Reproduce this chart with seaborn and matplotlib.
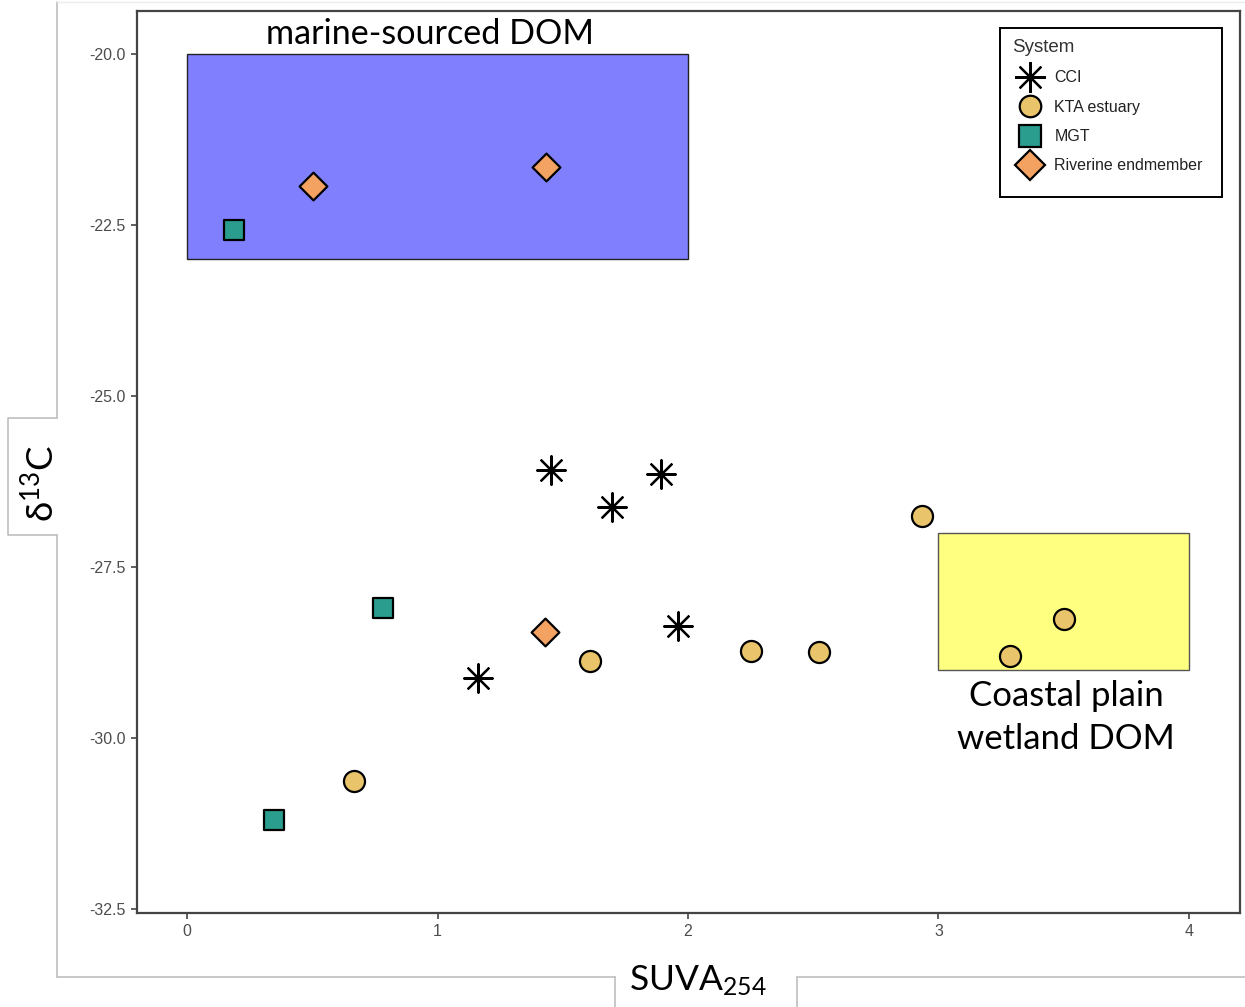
import matplotlib
matplotlib.use("Agg")
import matplotlib.pyplot as plt
import seaborn as sns
import pandas as pd
from matplotlib.lines import Line2D
from matplotlib.patches import Rectangle

# ---- data ----
cci_x = [1.453, 1.697, 1.892, 1.960, 1.162]
cci_y = [-26.08, -26.62, -26.14, -28.36, -29.12]
kta_x = [2.934, 3.501, 3.285, 2.523, 2.251, 1.609, 0.667]
kta_y = [-26.75, -28.26, -28.80, -28.74, -28.73, -28.87, -30.63]
mgt_x = [0.188, 0.782, 0.347]
mgt_y = [-22.57, -28.10, -31.20]
riv_x = [0.503, 1.433, 1.429]
riv_y = [-21.93, -21.65, -28.45]
systems = ["CCI", "KTA estuary", "MGT", "Riverine endmember"]
colors = {"CCI": "black", "KTA estuary": "#E9C46A", "MGT": "#2A9D8F",
          "Riverine endmember": "#F4A261"}

marine_box = [0.0, 2.0, -23.0, -20.0]    # x0, x1, y0, y1
wetland_box = [3.0, 4.0, -29.0, -27.0]

df = pd.DataFrame({
    "x": cci_x + kta_x + mgt_x + riv_x,
    "y": cci_y + kta_y + mgt_y + riv_y,
    "System": (["CCI"] * len(cci_x) + ["KTA estuary"] * len(kta_x)
               + ["MGT"] * len(mgt_x) + ["Riverine endmember"] * len(riv_x)),
})

sns.set_theme(style="white")
plt.rcParams["font.family"] = ["Liberation Sans", "DejaVu Sans"]
plt.rcParams["mathtext.fontset"] = "custom"
plt.rcParams["mathtext.rm"] = "Lato"
plt.rcParams["mathtext.it"] = "Lato"

W, H = 1245.0, 1007.0
def fx(p):
    return p / W
def fy(p):
    return 1 - p / H

fig = plt.figure(figsize=(12.45, 10.07), dpi=100)
ax = fig.add_axes([0.1100, 0.0934, 0.8860, 0.8957])

# highlight boxes
ax.add_patch(Rectangle((marine_box[0], marine_box[2]), marine_box[1] - marine_box[0],
                       marine_box[3] - marine_box[2], facecolor="#8080FF",
                       edgecolor="#222222", linewidth=1.0, zorder=1))
ax.add_patch(Rectangle((wetland_box[0], wetland_box[2]), wetland_box[1] - wetland_box[0],
                       wetland_box[3] - wetland_box[2], facecolor="#FFFF80",
                       edgecolor="#555555", linewidth=1.0, zorder=1))

marker_map = {"CCI": (8, 2, 0), "KTA estuary": "o", "MGT": "s",
              "Riverine endmember": "D"}
size_map = {"CCI": 420, "KTA estuary": 230, "MGT": 225, "Riverine endmember": 200}

for s in systems:
    sub = df[df["System"] == s]
    if s == "CCI":
        sns.scatterplot(data=sub, x="x", y="y", ax=ax, marker=marker_map[s],
                        s=size_map[s], color="black", linewidth=1.6,
                        legend=False, zorder=3)
    else:
        sns.scatterplot(data=sub, x="x", y="y", ax=ax, marker=marker_map[s],
                        s=size_map[s], color=colors[s], edgecolor="black",
                        linewidth=1.6, legend=False, zorder=3)

ax.set_xlim(-0.2, 4.204)
ax.set_ylim(-32.56, -19.37)
ax.set_xticks([0, 1, 2, 3, 4])
ax.set_xticklabels(["0", "1", "2", "3", "4"])
ax.set_yticks([-32.5, -30.0, -27.5, -25.0, -22.5, -20.0])
ax.set_yticklabels(["-32.5", "-30.0", "-27.5", "-25.0", "-22.5", "-20.0"])
ax.tick_params(axis="both", which="both", direction="out", length=4, width=1.2,
               color="#444444", labelcolor="#4D4D4D", labelsize=11.5, pad=4,
               bottom=True, left=True)
ax.set_xlabel("")
ax.set_ylabel("")
for sp in ax.spines.values():
    sp.set_color("#444444")
    sp.set_linewidth(1.6)

# annotations
ax.text(0.97, -19.71, "marine-sourced DOM", ha="center", va="center",
        fontsize=24.6, family=["Lato", "DejaVu Sans"], color="black")
ax.text(3.51, -29.70, "Coastal plain\nwetland DOM", ha="center", va="center",
        fontsize=25, family=["Lato", "DejaVu Sans"], color="black",
        linespacing=1.45)

# legend
handles = []
for s in systems:
    if s == "CCI":
        h = Line2D([], [], linestyle="none", marker=marker_map[s], markersize=22,
                   color="black", markeredgewidth=1.6)
    else:
        h = Line2D([], [], linestyle="none", marker=marker_map[s],
                   markersize={"KTA estuary": 15.5, "MGT": 15.5, "Riverine endmember": 15}[s],
                   markerfacecolor=colors[s], markeredgecolor="black",
                   markeredgewidth=1.6)
    handles.append(h)
leg = ax.legend(handles, systems, title="System", loc="upper left",
                bbox_to_anchor=(fx(1012), fy(39)), bbox_transform=fig.transFigure,
                borderaxespad=0, frameon=False,
                fontsize=11.5, title_fontsize=13.5, labelspacing=0.9,
                handletextpad=0.4, borderpad=0, handlelength=2.25)
leg._legend_box.align = "left"
for t in leg.get_texts():
    t.set_color("#222222")
leg.get_title().set_color("#333333")
# legend frame
fig.add_artist(Rectangle((fx(1000), fy(197)), fx(1222) - fx(1000), fy(28) - fy(197),
                         transform=fig.transFigure, fill=False, edgecolor="black",
                         linewidth=1.4, zorder=5))

# outer frame (figure pixels)
frame_col = "#BFBFBF"
fig.add_artist(Line2D([fx(57), fx(57)], [fy(2), fy(418)], color=frame_col, lw=1.2))
fig.add_artist(Line2D([fx(57), fx(57)], [fy(535), fy(977)], color=frame_col, lw=1.2))
fig.add_artist(Line2D([fx(57), fx(1245)], [fy(2), fy(2)], color="#EBEBEB", lw=1.0))
fig.add_artist(Line2D([fx(57), fx(615)], [fy(977), fy(977)], color=frame_col, lw=1.2))
fig.add_artist(Line2D([fx(797), fx(1245)], [fy(977), fy(977)], color=frame_col, lw=1.2))
# y label box (three sides)
fig.add_artist(Line2D([fx(57), fx(8), fx(8), fx(57)],
                      [fy(418), fy(418), fy(535), fy(535)], color=frame_col, lw=1.2))
# x label box
fig.add_artist(Line2D([fx(615), fx(615)], [fy(977), fy(1007)], color=frame_col, lw=1.2))
fig.add_artist(Line2D([fx(797), fx(797)], [fy(977), fy(1007)], color=frame_col, lw=1.2))

fig.text(fx(41), fy(483), r"δ$^{13}$C", rotation=90, ha="center", va="center",
         fontsize=26.5, family=["Lato", "DejaVu Sans"], color="black")
fig.text(fx(698), fy(981), r"SUVA$_{254}$", ha="center", va="center",
         fontsize=25.5, family=["Lato", "DejaVu Sans"], color="black")

fig.savefig("out.png", dpi=100)
